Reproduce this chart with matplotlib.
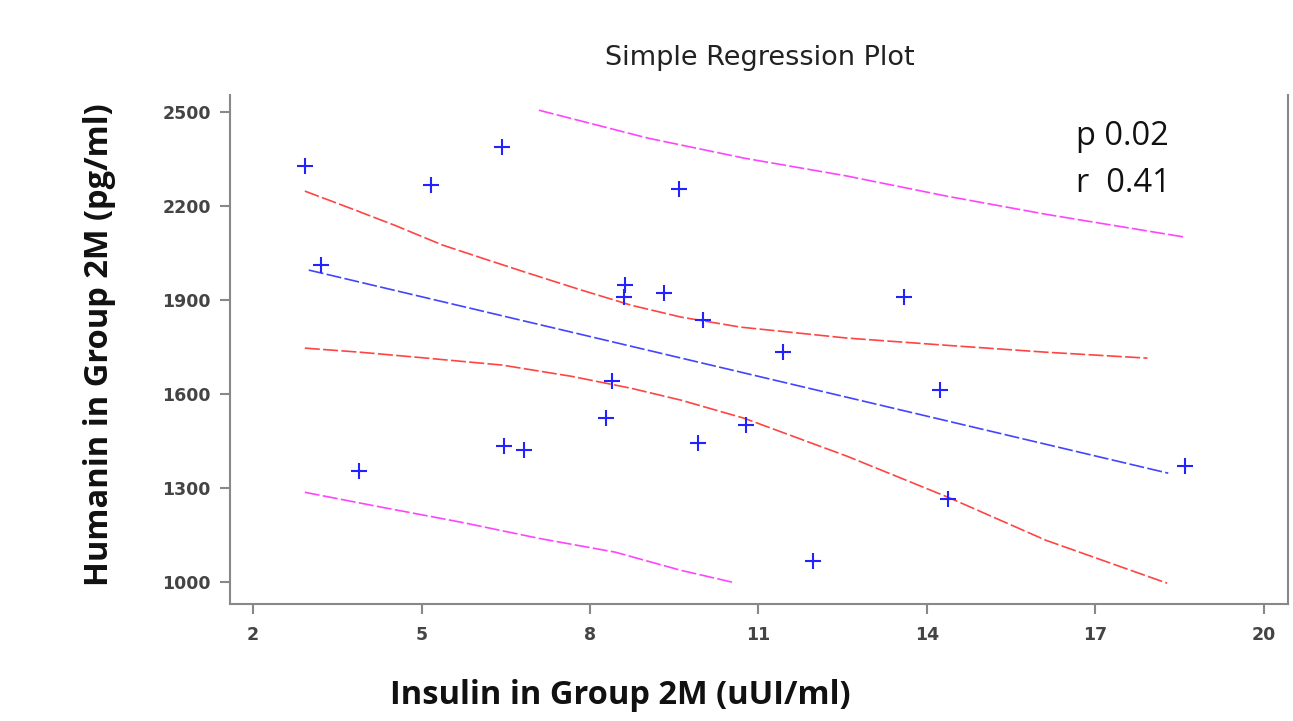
import matplotlib
matplotlib.use("Agg")
import matplotlib.pyplot as plt

# observed points (insulin, humanin)
insulin = [2.92, 3.21, 3.88, 5.17, 6.43, 6.46, 6.82, 8.29, 8.40, 8.63, 8.61,
           9.32, 9.58, 10.01, 9.92, 10.77, 11.44, 11.98, 13.59, 14.23, 14.37, 18.60]
humanin = [2328, 2012, 1354, 2267, 2388, 1434, 1421, 1523, 1641, 1948, 1909,
           1922, 2254, 1836, 1444, 1501, 1734, 1067, 1909, 1613, 1265, 1370]

# fitted line and bands
fit_x = [2.99, 18.30]
fit_y = [1996, 1348]

ci_up_x = [2.92, 3.72, 4.52, 5.37, 6.08, 6.85, 7.85, 8.73, 9.62, 10.68, 12.58, 14.35, 16.12, 17.93]
ci_up_y = [2248, 2194, 2139, 2076, 2034, 1989, 1932, 1884, 1846, 1814, 1779, 1756, 1734, 1715]

ci_lo_x = [2.92, 3.90, 4.91, 6.43, 7.67, 8.73, 9.62, 10.75, 12.58, 14.38, 16.12, 18.28]
ci_lo_y = [1747, 1734, 1718, 1693, 1657, 1619, 1581, 1523, 1402, 1271, 1134, 997]

pi_up_x = [7.09, 9.03, 10.75, 12.58, 14.35, 16.12, 18.60]
pi_up_y = [2506, 2417, 2353, 2296, 2232, 2174, 2101]

pi_lo_x = [2.92, 4.30, 5.72, 7.09, 8.45, 9.62, 10.54]
pi_lo_y = [1287, 1239, 1191, 1140, 1096, 1038, 1000]

x_ticks = [2, 5, 8, 11, 14, 17, 20]
y_ticks = [1000, 1300, 1600, 1900, 2200, 2500]

fig = plt.figure(figsize=(12.93, 7.21), dpi=100)
ax = fig.add_axes([0.178, 0.162, 0.818, 0.706])

dash = (0, (9, 2))
ax.plot(pi_up_x, pi_up_y, color="#ff44ff", lw=1.2, ls=dash)
ax.plot(pi_lo_x, pi_lo_y, color="#ff44ff", lw=1.2, ls=dash)
ax.plot(ci_up_x, ci_up_y, color="#ff4444", lw=1.2, ls=dash)
ax.plot(ci_lo_x, ci_lo_y, color="#ff4444", lw=1.2, ls=dash)
ax.plot(fit_x, fit_y, color="#4444ff", lw=1.2, ls=dash)
ax.plot(insulin, humanin, ls="none", marker="+", ms=12, mew=1.5, color="#2222ff")

ax.set_xlim(1.59, 20.43)
ax.set_ylim(930, 2554)
ax.set_xticks(x_ticks)
ax.set_yticks(y_ticks)
ax.spines["top"].set_visible(False)
for side in ["left", "right", "bottom"]:
    ax.spines[side].set_color("#888888")
    ax.spines[side].set_linewidth(1.5)
ax.tick_params(axis="both", colors="#888888", width=1.5, length=7,
               labelcolor="#444444", labelsize=12.5)
ax.tick_params(axis="y", pad=7)
ax.tick_params(axis="x", pad=9)
for lab in ax.get_xticklabels() + ax.get_yticklabels():
    lab.set_fontweight("bold")

fig.text(0.588, 0.92, "Simple Regression Plot", ha="center", va="center",
         fontsize=19.5, family="DejaVu Sans", color="#222222")
fig.text(0.48, 0.035, "Insulin in Group 2M (uUI/ml)", ha="center", va="center",
         fontsize=23.5, fontweight="bold", family="Open Sans", color="#111111")
fig.text(0.077, 0.522, "Humanin in Group 2M (pg/ml)", ha="center", va="center",
         rotation=90, fontsize=23.5, fontweight="bold", family="Open Sans",
         color="#111111")
fig.text(0.832, 0.81, "p 0.02", ha="left", va="center", fontsize=23.5,
         family="Open Sans", color="#111111")
fig.text(0.832, 0.746, "r  0.41", ha="left", va="center", fontsize=23.5,
         family="Open Sans", color="#111111")

fig.savefig("out.png", dpi=100)
